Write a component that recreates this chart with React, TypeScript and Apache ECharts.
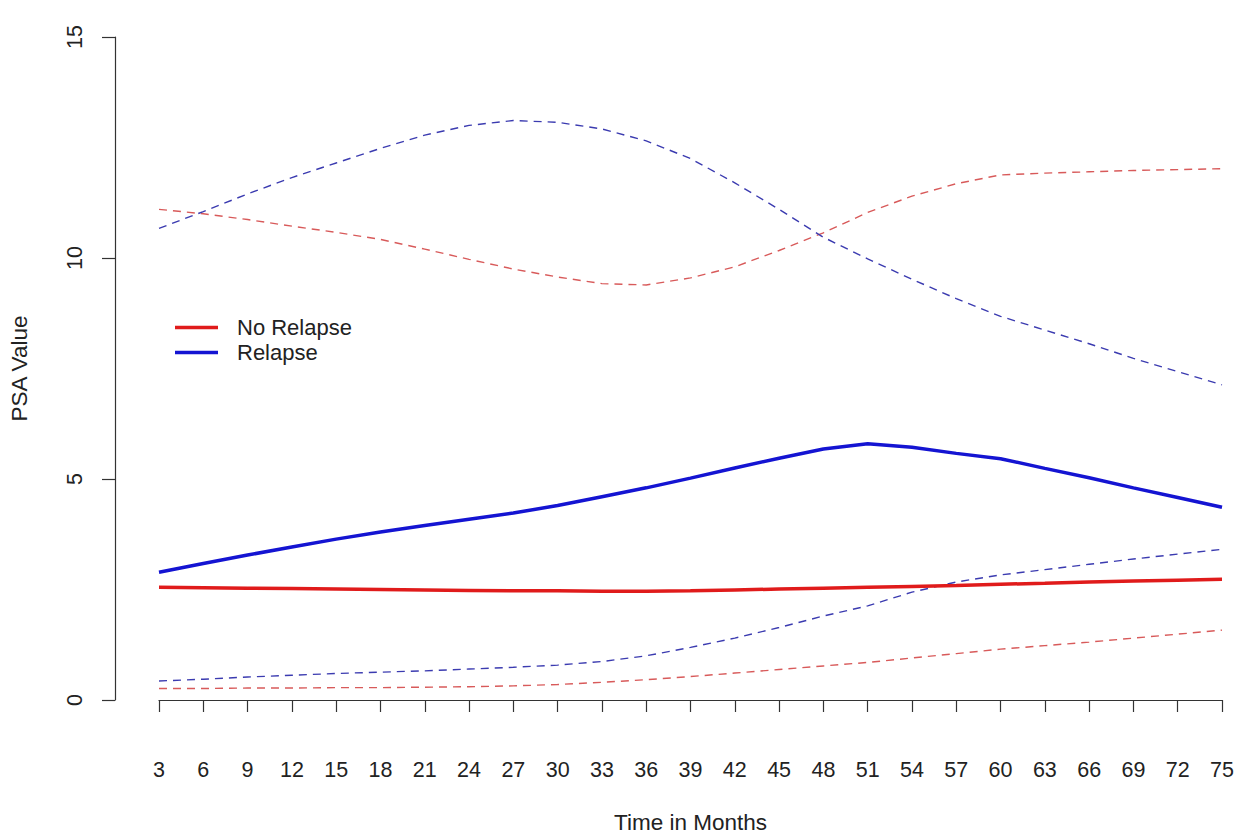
import React, { useEffect, useRef } from "react";
import * as echarts from "echarts";

// Follow-up months at which PSA was summarised
const months = [3, 6, 9, 12, 15, 18, 21, 24, 27, 30, 33, 36, 39, 42, 45, 48, 51, 54, 57, 60, 63, 66, 69, 72, 75];

// No Relapse group: mean curve and its upper / lower bands
const noRelapseMean = [2.55, 2.54, 2.53, 2.52, 2.51, 2.5, 2.49, 2.48, 2.47, 2.47, 2.46, 2.46, 2.47, 2.49, 2.51, 2.53, 2.55, 2.57, 2.59, 2.62, 2.64, 2.67, 2.69, 2.71, 2.73];
const noRelapseUpper = [11.1, 11.0, 10.87, 10.72, 10.58, 10.42, 10.2, 9.97, 9.75, 9.57, 9.42, 9.39, 9.55, 9.8, 10.17, 10.57, 11.03, 11.4, 11.68, 11.88, 11.92, 11.95, 11.98, 12.0, 12.02];
const noRelapseLower = [0.26, 0.26, 0.27, 0.27, 0.28, 0.28, 0.29, 0.3, 0.32, 0.35, 0.4, 0.46, 0.53, 0.61, 0.69, 0.77, 0.85, 0.95, 1.05, 1.15, 1.23, 1.31, 1.4, 1.49, 1.58];

// Relapse group: mean curve and its upper / lower bands
const relapseMean = [2.89, 3.09, 3.28, 3.46, 3.64, 3.8, 3.95, 4.09, 4.23, 4.4, 4.6, 4.8, 5.02, 5.25, 5.47, 5.68, 5.8, 5.72, 5.58, 5.46, 5.24, 5.03, 4.8, 4.58, 4.36];
const relapseUpper = [10.67, 11.05, 11.45, 11.82, 12.15, 12.48, 12.78, 13.0, 13.11, 13.07, 12.92, 12.65, 12.25, 11.7, 11.1, 10.47, 9.98, 9.52, 9.08, 8.68, 8.37, 8.06, 7.73, 7.43, 7.13];
const relapseLower = [0.43, 0.47, 0.52, 0.56, 0.6, 0.63, 0.66, 0.7, 0.74, 0.79, 0.87, 1.0, 1.19, 1.4, 1.64, 1.9, 2.13, 2.44, 2.67, 2.83, 2.95, 3.07, 3.19, 3.3, 3.41];

const yTicks = [0, 5, 10, 15];

const FONT = "'Liberation Sans', Arial, Helvetica, sans-serif";
const RED = "#e01b1b";
const BLUE = "#1414d2";
const RED_DASH = "#d85a5a";
const BLUE_DASH = "#3b3bb0";

const pairs = (vals: number[]) => months.map((m, i) => [m, vals[i]]);

export default function App() {
  const ref = useRef<HTMLDivElement>(null);

  useEffect(() => {
    if (!ref.current) return;
    const chart = echarts.init(ref.current, undefined, { renderer: "svg" });

    const solid = (name: string, vals: number[], color: string) => ({
      name,
      type: "line",
      data: pairs(vals),
      symbol: "none",
      smooth: false,
      itemStyle: { color },
      lineStyle: { color, width: 3.5 },
      z: 3,
    });
    const dashed = (name: string, vals: number[], color: string) => ({
      name,
      type: "line",
      data: pairs(vals),
      symbol: "none",
      smooth: false,
      itemStyle: { color },
      lineStyle: { color, width: 1.4, type: [8, 6] },
      z: 2,
    });

    chart.setOption({
      animation: false,
      backgroundColor: "#ffffff",
      textStyle: { fontFamily: FONT },
      grid: { left: 157, right: 25, top: 37, bottom: 139, containLabel: false },
      legend: {
        data: ["No Relapse", "Relapse"],
        orient: "vertical",
        left: 175,
        top: 316,
        padding: 0,
        icon: "rect",
        itemWidth: 43,
        itemHeight: 3.5,
        itemGap: 2,
        textStyle: { fontFamily: FONT, fontSize: 22, color: "#222", lineHeight: 23, padding: [0, 0, 0, 14] },
        selectedMode: false,
      },
      xAxis: {
        type: "value",
        min: 3,
        max: 75,
        interval: 3,
        offset: 28,
        name: "Time in Months",
        nameLocation: "middle",
        nameGap: 83,
        nameTextStyle: { fontFamily: FONT, fontSize: 22.5, color: "#222" },
        axisLine: { show: true, lineStyle: { color: "#333", width: 1.2 } },
        axisTick: { show: true, length: 12, lineStyle: { color: "#333", width: 1.2 } },
        axisLabel: { fontFamily: FONT, fontSize: 21.5, color: "#222", margin: 31 },
        splitLine: { show: false },
      },
      yAxis: {
        type: "value",
        min: yTicks[0],
        max: yTicks[yTicks.length - 1],
        interval: 5,
        offset: 44,
        name: "PSA Value",
        nameLocation: "middle",
        nameRotate: 90,
        nameGap: 84,
        nameTextStyle: { fontFamily: FONT, fontSize: 22.5, color: "#222" },
        axisLine: { show: true, lineStyle: { color: "#333", width: 1.2 } },
        axisTick: { show: true, length: 13, lineStyle: { color: "#333", width: 1.2 } },
        axisLabel: { fontFamily: FONT, fontSize: 21.5, color: "#222", rotate: 90, margin: 29 },
        splitLine: { show: false },
      },
      series: [
        dashed("No Relapse upper", noRelapseUpper, RED_DASH),
        dashed("No Relapse lower", noRelapseLower, RED_DASH),
        dashed("Relapse upper", relapseUpper, BLUE_DASH),
        dashed("Relapse lower", relapseLower, BLUE_DASH),
        solid("No Relapse", noRelapseMean, RED),
        solid("Relapse", relapseMean, BLUE),
      ],
    });

    return () => chart.dispose();
  }, []);

  return (
    <div
      ref={ref}
      style={{ position: "absolute", left: 0, top: 0, width: 1247, height: 839, background: "#fff" }}
    />
  );
}
